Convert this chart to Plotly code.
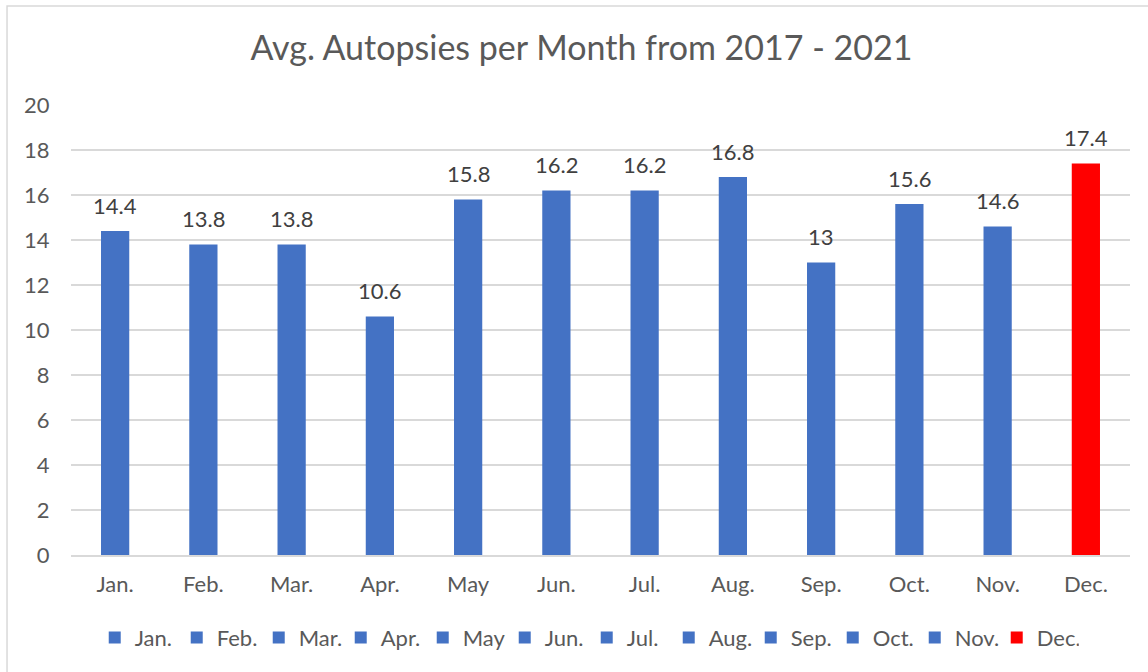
import plotly.graph_objects as go

months = ["Jan.", "Feb.", "Mar.", "Apr.", "May", "Jun.", "Jul.", "Aug.", "Sep.", "Oct.", "Nov.", "Dec."]
values = [14.4, 13.8, 13.8, 10.6, 15.8, 16.2, 16.2, 16.8, 13, 15.6, 14.6, 17.4]
colors = ["#4472C4"] * 11 + ["#FF0000"]
title = "Avg. Autopsies per Month from 2017 - 2021"
y_ticks = [0, 2, 4, 6, 8, 10, 12, 14, 16, 18, 20]

FONT = "Lato"
fig = go.Figure()
for m, v, c in zip(months, values, colors):
    fig.add_trace(go.Bar(x=[m], y=[v], name=m, marker=dict(color=c, line=dict(width=0)),
                         width=0.32, hoverinfo="x+y"))
    fig.add_annotation(x=m, y=v, text=str(v), showarrow=False, yanchor="middle", yshift=26,
                       font=dict(family=FONT, size=22, color="#404040"))

fig.update_layout(
    width=1148, height=672,
    margin=dict(l=71, r=18, t=105, b=117),
    paper_bgcolor="white", plot_bgcolor="white",
    barmode="overlay",
    title=dict(text=title, x=0.482, xanchor="center", xref="paper", y=1 - 48 / 672, yanchor="middle",
               font=dict(family=FONT, size=34, color="#595959")),
    font=dict(family=FONT, size=22, color="#595959"),
    xaxis=dict(categoryorder="array", categoryarray=months, showgrid=False,
               showline=True, linecolor="#d9d9d9", linewidth=1.5,
               ticks="outside", ticklen=9, tickcolor="rgba(0,0,0,0)",
               tickfont=dict(family=FONT, size=22, color="#595959")),
    yaxis=dict(range=[0, 20], tickvals=y_ticks, showgrid=True, gridcolor="#d9d9d9", gridwidth=1.5,
               zeroline=False, ticks="outside", ticklen=16, tickcolor="rgba(0,0,0,0)",
               tickfont=dict(family=FONT, size=22, color="#595959")),
    legend=dict(orientation="h", x=0.487, xanchor="center", y=-0.184, yanchor="middle",
                font=dict(family=FONT, size=22, color="#595959"), itemwidth=30,
                entrywidth=37, traceorder="normal"),
    shapes=[dict(type="rect", xref="paper", yref="paper", x0=-0.0604, x1=1.05, y0=-0.35, y1=1.22,
                 line=dict(color="#d9d9d9", width=1.5), fillcolor="rgba(0,0,0,0)", layer="below")],
)
fig.write_html("out.html", config={"displayModeBar": False},
               post_script="document.body.style.margin='0';")
